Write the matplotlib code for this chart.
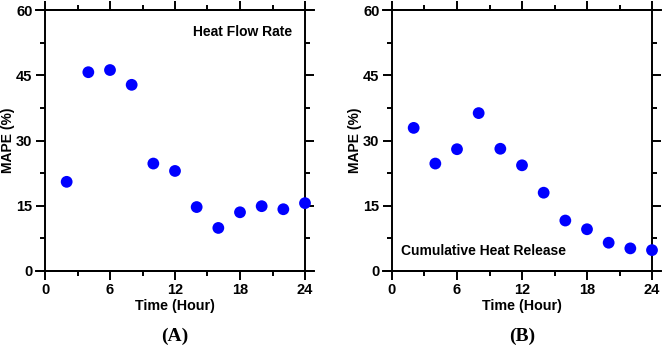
import matplotlib
matplotlib.use("Agg")
import matplotlib.pyplot as plt
from matplotlib.ticker import MultipleLocator

plt.rcParams['font.family'] = ['Liberation Sans', 'DejaVu Sans']

hours = [2, 4, 6, 8, 10, 12, 14, 16, 18, 20, 22, 24]
mape_heat_flow = [20.5, 45.7, 46.2, 42.8, 24.7, 23.0, 14.7, 9.9, 13.5, 14.9, 14.2, 15.6]
mape_cumulative = [32.9, 24.7, 28.0, 36.3, 28.1, 24.3, 18.0, 11.6, 9.6, 6.5, 5.2, 4.8]
panel_titles = ["Heat Flow Rate", "Cumulative Heat Release"]
panel_letters = ["(A)", "(B)"]
x_ticks = [0, 6, 12, 18, 24]
y_ticks = [0, 15, 30, 45, 60]

W, H = 662, 348
fig = plt.figure(figsize=(W / 100, H / 100), dpi=100)

def px_axes(left, top, right, bottom):
    return fig.add_axes([left / W, 1 - bottom / H, (right - left) / W, (bottom - top) / H])

axA = px_axes(45, 10, 305, 271)
axB = px_axes(392, 10, 652, 271)

for ax, data, title, letter in zip([axA, axB], [mape_heat_flow, mape_cumulative],
                                   panel_titles, panel_letters):
    ax.scatter(hours, data, s=72, color='#0000FF', edgecolors='none', zorder=3, clip_on=False)
    ax.set_xlim(0, 24)
    ax.set_ylim(0, 60)
    ax.set_xticks(x_ticks)
    ax.set_yticks(y_ticks)
    ax.xaxis.set_minor_locator(MultipleLocator(3))
    ax.yaxis.set_minor_locator(MultipleLocator(7.5))
    ax.tick_params(which='both', direction='out', top=True, right=True,
                   labeltop=False, labelright=False, width=1.4, color='black')
    ax.tick_params(which='major', length=6.5, pad=2.5, labelsize=10.5)
    ax.tick_params(which='minor', length=3.6)
    for lbl in ax.get_xticklabels() + ax.get_yticklabels():
        lbl.set_fontweight('bold')
    for sp in ax.spines.values():
        sp.set_linewidth(1.4)
    # horizontal frame lines overshoot the vertical ones slightly
    for yv in (0, 1):
        ax.plot([-0.035, 1.035], [yv, yv], transform=ax.transAxes, color='black',
                lw=1.4, clip_on=False, zorder=4)
    ax.set_xlabel("Time (Hour)", fontsize=10.3, fontweight='bold', labelpad=1)
    ax.set_ylabel("MAPE (%)", fontsize=10, fontweight='bold')
    ax.yaxis.set_label_coords(-0.117, 0.5)
    ax.text(0.5, -0.25, letter, transform=ax.transAxes, ha='center', va='center',
            fontsize=14, fontweight='bold', family=['Liberation Serif', 'DejaVu Serif'])

axA.text(0.952, 0.915, panel_titles[0], transform=axA.transAxes, ha='right', va='center',
         fontsize=10, fontweight='bold')
axB.text(0.035, 0.076, panel_titles[1], transform=axB.transAxes, ha='left', va='center',
         fontsize=10, fontweight='bold')

fig.savefig("out.png", dpi=100)
